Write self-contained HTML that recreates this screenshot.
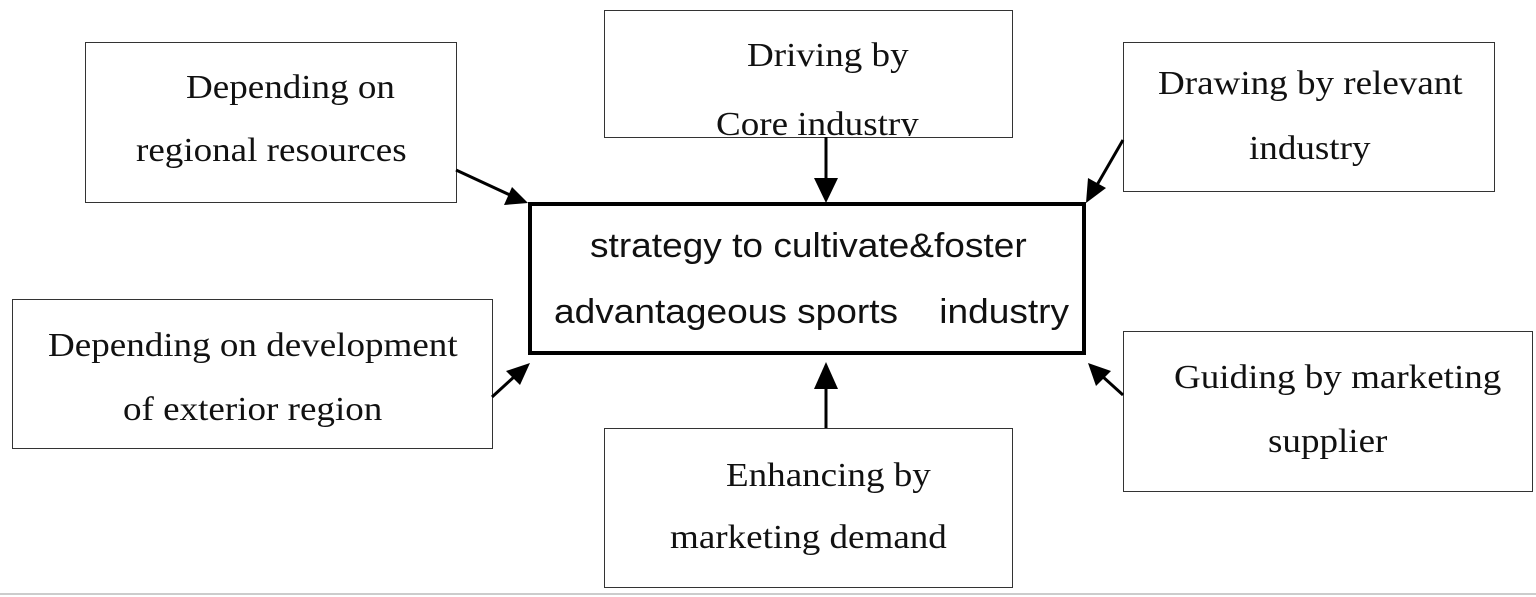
<!DOCTYPE html>
<html><head><style>
body{margin:0;width:1536px;height:597px;background:#fff;overflow:hidden;position:relative}
.b{position:absolute;border:1.5px solid #333;box-sizing:border-box;background:#fff}
.t{position:absolute;white-space:nowrap;font-family:"Liberation Serif",serif;font-size:34px;color:#111;transform:scaleX(1.09);transform-origin:0 0}
.s{font-family:"Liberation Sans",sans-serif;font-size:34px;transform:scaleX(1.09)}
svg{position:absolute;left:0;top:0}
</style></head><body>
<div class="b" style="left:85px;top:42px;width:372px;height:161px"></div>
<div class="b" style="left:604px;top:10px;width:409px;height:128px"></div>
<div class="b" style="left:1123px;top:42px;width:372px;height:150px"></div>
<div class="b" style="left:12px;top:299px;width:481px;height:150px"></div>
<div class="b" style="left:604px;top:428px;width:409px;height:160px"></div>
<div class="b" style="left:1123px;top:331px;width:410px;height:161px"></div>
<div style="position:absolute;left:528px;top:202px;width:558px;height:153px;border:4px solid #000;box-sizing:border-box"></div>
<div class="t" style="left:186px;top:69px">Depending on</div>
<div class="t" style="left:136px;top:132px">regional resources</div>
<div class="t" style="left:747px;top:37px">Driving by</div>
<div style="position:absolute;left:604px;top:10px;width:409px;height:126px;overflow:hidden"><div class="t" style="left:112px;top:96px">Core industry</div></div>
<div class="t" style="left:1158px;top:65px">Drawing by relevant</div>
<div class="t" style="left:1249px;top:130px">industry</div>
<div class="t" style="left:48px;top:327px">Depending on development</div>
<div class="t" style="left:123px;top:391px">of exterior region</div>
<div class="t" style="left:726px;top:457px">Enhancing by</div>
<div class="t" style="left:670px;top:519px">marketing demand</div>
<div class="t" style="left:1174px;top:359px">Guiding by marketing</div>
<div class="t" style="left:1268px;top:423px">supplier</div>
<div class="t s" style="left:590px;top:227px">strategy to cultivate&amp;foster</div>
<div class="t s" style="left:554px;top:293px">advantageous sports&nbsp;&nbsp;&nbsp; industry</div>
<svg width="1536" height="597">
<g stroke="#000" stroke-width="3" fill="#000">
<line x1="456" y1="170" x2="510" y2="195"/><polygon points="528,203 504,205 512,187" stroke="none"/>
<line x1="826" y1="137" x2="826" y2="182"/><polygon points="826,203 814,178 838,178" stroke="none"/>
<line x1="1123" y1="140" x2="1097" y2="185"/><polygon points="1086,203 1088,178 1106,188" stroke="none"/>
<line x1="492" y1="397" x2="515" y2="376"/><polygon points="530,363 520,385 506,371" stroke="none"/>
<line x1="826" y1="428" x2="826" y2="385"/><polygon points="826,362 814,389 838,389" stroke="none"/>
<line x1="1123" y1="395" x2="1102" y2="376"/><polygon points="1088,363 1111,371 1096,386" stroke="none"/>
</g>
<line x1="0" y1="594" x2="1536" y2="594" stroke="#ccc" stroke-width="2"/>
</svg>
</body></html>
